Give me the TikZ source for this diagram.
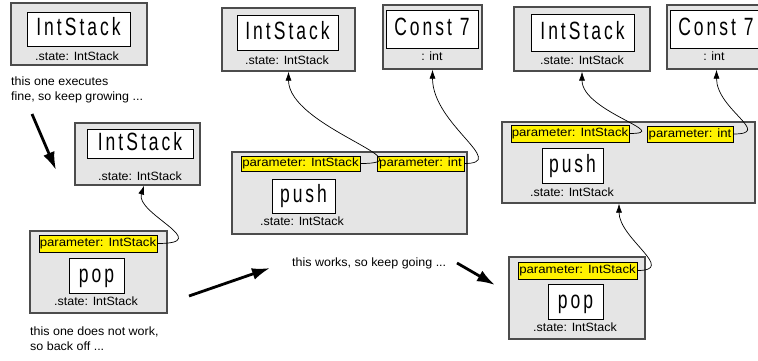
\documentclass[tikz,border=0pt]{standalone}
\usepackage{fontspec}
\setmainfont{Liberation Sans}
\newfontfamily\bigfam[FakeStretch=0.7,LetterSpace=12]{Liberation Sans}
\newfontfamily\smallfam[FakeStretch=1.04]{Liberation Sans}
\newfontfamily\paramfam[FakeStretch=1.1]{Liberation Sans}
\usetikzlibrary{arrows.meta}
\newcommand\fbig{\bigfam\fontsize{25}{28}\selectfont}
\newcommand\fsmall{\smallfam\fontsize{12}{15}\selectfont}
\newcommand\fparam{\paramfam\fontsize{12}{15}\selectfont}

\begin{document}
\begin{tikzpicture}[x=1pt,y=-1pt,
  outer/.style={draw=black!70, fill=black!10, line width=1.2pt, inner sep=0pt},
  inner/.style={draw=black, fill=white, line width=0.9pt, inner sep=0pt, font=\fbig, text height=18pt, text depth=5pt},
  param/.style={draw=black, fill=yellow, line width=0.8pt, inner sep=0pt, font=\fparam, text height=9pt, text depth=2.5pt},
  lbl/.style={inner sep=0pt, font=\fsmall, text height=9pt, text depth=2.5pt},
  para/.style={inner sep=0pt, font=\fsmall, align=left, anchor=north west},
  link/.style={line width=0.7pt, -{Latex[length=9pt,width=6pt]}},
  bigarrow/.style={line width=2.8pt, -{Latex[length=18pt,width=12pt]}}]
\clip (0,0) rectangle (758,360);
\fill[white] (0,0) rectangle (758,360);

% Box A
\node[outer, minimum width=136pt, minimum height=62pt] (A) at (79,34) {};
\node[inner, minimum width=103pt, minimum height=34pt] (Ai) at (78.5,29) {IntStack};
\node[lbl] (As) at (77,57) {.state: IntStack};
\node[para] (t1) at (11,77) {this one executes\\fine, so keep growing ...};

% Box B
\node[outer, minimum width=125pt, minimum height=62pt] (B) at (137.5,154) {};
\node[inner, minimum width=106pt, minimum height=29pt] (Bi) at (140,143.5) {IntStack};
\node[lbl] (Bs) at (140,177) {.state: IntStack};

% Box C
\node[outer, minimum width=137pt, minimum height=82pt] (C) at (98.5,272) {};
\node[param, minimum width=118pt, minimum height=17pt] (Cp) at (98,243.5) {parameter: IntStack};
\node[inner, minimum width=55pt, minimum height=35pt] (Ci) at (96.5,275.5) {pop};
\node[lbl] (Cs) at (96,302) {.state: IntStack};
\node[para] (t2) at (30,327) {this one does not work,\\so back off ...};

% Box E
\node[outer, minimum width=133pt, minimum height=63pt] (E) at (288.5,39.5) {};
\node[inner, minimum width=101pt, minimum height=35pt] (Ei) at (287.5,32.5) {IntStack};
\node[lbl] (Es) at (287,61) {.state: IntStack};

% Box F
\node[outer, minimum width=99pt, minimum height=64pt] (F) at (432.5,37) {};
\node[inner, minimum width=92pt, minimum height=38pt] (Fi) at (432,29) {Const 7};
\node[lbl] (Fs) at (432,57) {: int};

% Box D
\node[outer, minimum width=235pt, minimum height=82pt] (D) at (349.5,193) {};
\node[param, minimum width=119pt, minimum height=15pt] (Dp1) at (300.5,163.5) {parameter: IntStack};
\node[param, minimum width=87pt, minimum height=15pt] (Dp2) at (420.5,163.5) {parameter: int};
\node[inner, minimum width=63pt, minimum height=34pt] (Di) at (303.5,196) {push};
\node[lbl] (Ds) at (302,222) {.state: IntStack};

\node[lbl, anchor=west] (t3) at (292,263) {this works, so keep going ...};

% Box I
\node[outer, minimum width=136pt, minimum height=64pt] (I) at (582,39) {};
\node[inner, minimum width=103pt, minimum height=37pt] (Ii) at (582.5,32.5) {IntStack};
\node[lbl] (Is) at (582,61) {.state: IntStack};

% Box J
\node[outer, minimum width=99pt, minimum height=64pt] (J) at (716.5,37) {};
\node[inner, minimum width=92pt, minimum height=38pt] (Ji) at (716,29) {Const 7};
\node[lbl] (Js) at (714,57) {: int};

% Box H
\node[outer, minimum width=253pt, minimum height=81pt] (H) at (628.5,162.5) {};
\node[param, minimum width=118pt, minimum height=17pt] (Hp1) at (570,133.5) {parameter: IntStack};
\node[param, minimum width=86pt, minimum height=16pt] (Hp2) at (690,134) {parameter: int};
\node[inner, minimum width=61pt, minimum height=35pt] (Hi) at (572.5,165.5) {push};
\node[lbl] (Hs) at (572,193) {.state: IntStack};

% Box G
\node[outer, minimum width=136pt, minimum height=82pt] (G) at (577,298) {};
\node[param, minimum width=119pt, minimum height=17pt] (Gp) at (577.5,270.5) {parameter: IntStack};
\node[inner, minimum width=55pt, minimum height=35pt] (Gi) at (575.5,301.5) {pop};
\node[lbl] (Gs) at (575,328) {.state: IntStack};

% connectors
\draw[link] (Cp.east) .. controls +(58,0) and +(-9,28) .. ([xshift=6.5pt]B.south);
\draw[link] (Dp1.east) .. controls +(70,0) and +(0,55) .. (E.south);
\draw[link] (Dp2.east) .. controls +(45,0) and +(0,55) .. (F.south);
\draw[link] (Gp.east) .. controls +(40,0) and +(0,35) .. ([xshift=-9.5pt]H.south);
\draw[link] (Hp1.east) .. controls +(45,0) and +(0,40) .. (I.south);
\draw[link] (Hp2.east) .. controls +(40,0) and +(0,40) .. (J.south);

% big arrows
\coordinate (a1s) at (32,114);
\coordinate (a1e) at (56,170);
\coordinate (a2s) at (189,296);
\coordinate (a2e) at (270,268);
\coordinate (a3s) at (457,263);
\coordinate (a3e) at (495,285);
\draw[bigarrow] (a1s) -- (a1e);
\draw[bigarrow] (a2s) -- (a2e);
\draw[bigarrow] (a3s) -- (a3e);
\end{tikzpicture}
\end{document}
